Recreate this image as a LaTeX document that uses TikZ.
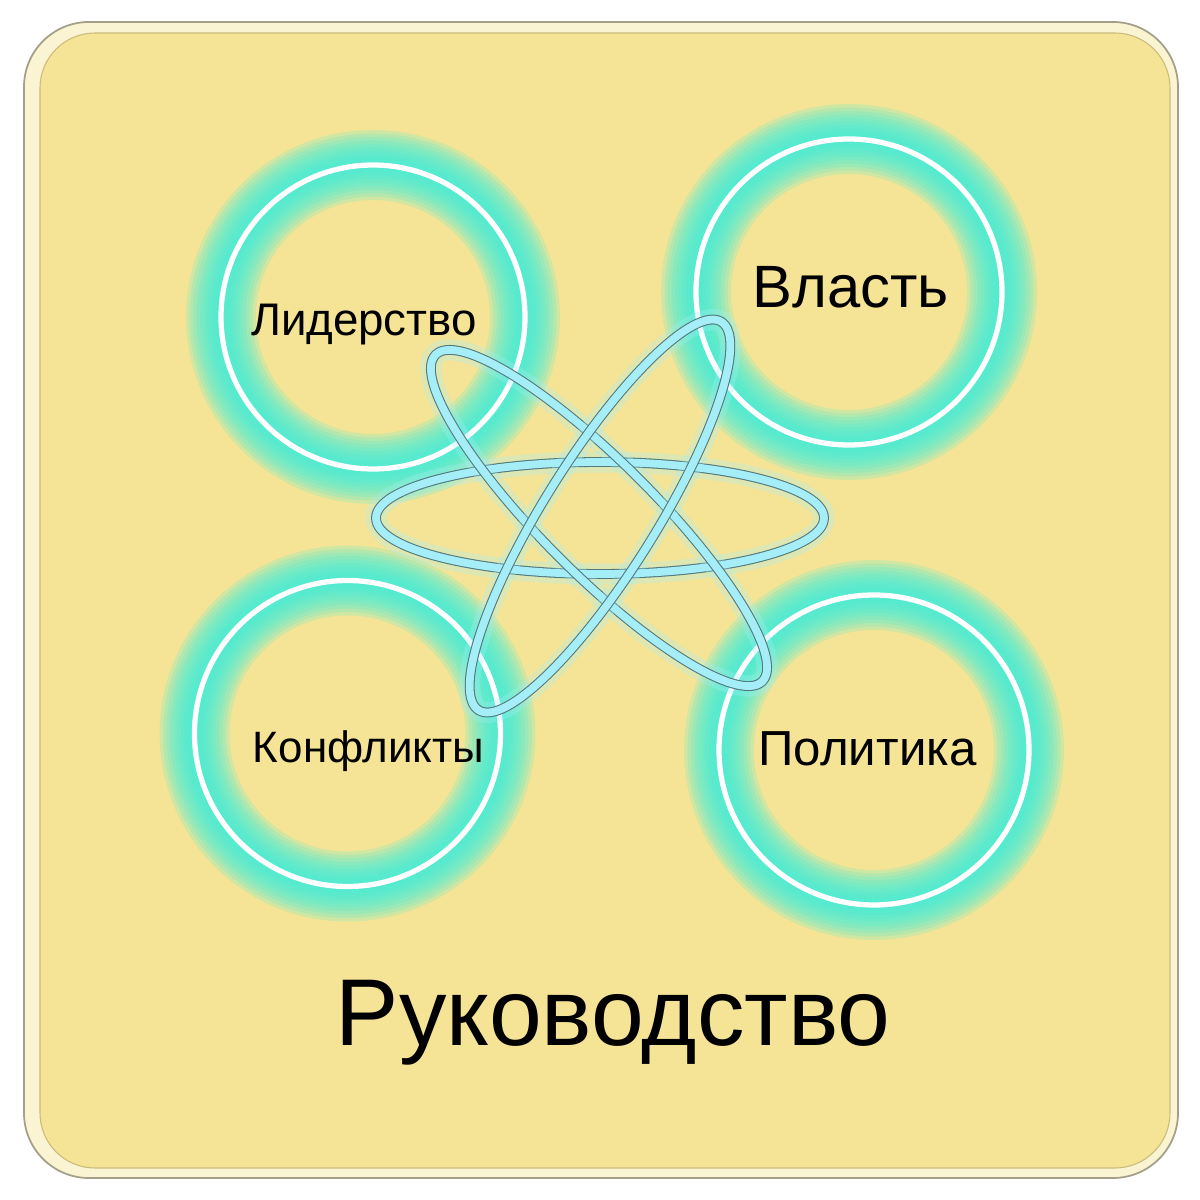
\documentclass[tikz,border=0pt]{standalone}
\usepackage{fontspec}
\setmainfont{Liberation Sans}
\usetikzlibrary{shapes.geometric}
\definecolor{cardfill}{RGB}{245,228,150}
\definecolor{cardrim}{RGB}{251,244,210}
\definecolor{glowc}{RGB}{64,238,218}
\definecolor{orbc}{RGB}{165,238,248}
\definecolor{orbline}{RGB}{80,120,125}
\tikzstyle{rg}=[circle,draw=white,line width=1.5pt,inner sep=0pt]
\tikzstyle{lb}=[anchor=base,inner sep=0pt]
\tikzstyle{orb}=[ellipse,draw=orbline,double=orbc,double distance=2.2pt,line width=.3pt,inner sep=0pt,minimum height=1.12cm,
  preaction={draw=orbc,line width=6pt,opacity=.3}]

\begin{document}
\begin{tikzpicture}
\useasboundingbox[fill=white] (0,0) rectangle (12,12);
% card
\draw[fill=cardrim,draw=black!35!cardrim,line width=.5pt,rounded corners=.65cm] (.24,.22) rectangle (11.78,11.78);
\draw[fill=cardfill,draw=black!18!cardfill,line width=.3pt,rounded corners=.55cm] (.40,.32) rectangle (11.70,11.67);
% rings with glow
\foreach \nm/\x/\y/\r in {lider/3.73/8.83/1.52, vlast/8.49/9.08/1.53, konf/3.475/4.665/1.53, polit/8.74/4.50/1.55}{
  \foreach \i in {1,...,10}
    \draw[glowc,opacity=.2,line width=\i*.07cm] (\x,\y) circle (\r);
  \node[rg,minimum size=2*\r cm] (\nm) at (\x,\y) {};
}
% labels
\node[lb,font=\fontsize{13}{15}\selectfont] (tLider) at (3.64,8.64) {Лидерство};
\node[lb,font=\fontsize{17}{20}\selectfont] (tVlast) at (8.51,8.92) {Власть};
\node[lb,font=\fontsize{12.5}{15}\selectfont] (tKonf) at (3.685,4.37) {Конфликты};
\node[lb,font=\fontsize{14}{16}\selectfont] (tPolit) at (8.675,4.34) {Политика};
\node[lb,font=\fontsize{27}{32}\selectfont] (tRuk) at (6.13,1.54) {Руководство};
% atom
\node[orb,minimum width=4.48cm] (orbH) at (6.00,6.82) {};
\node[orb,minimum width=4.62cm,rotate=-45] (orbA) at (5.99,6.82) {};
\node[orb,minimum width=4.58cm,rotate=58] (orbB) at (6.00,6.84) {};
\end{tikzpicture}
\end{document}
